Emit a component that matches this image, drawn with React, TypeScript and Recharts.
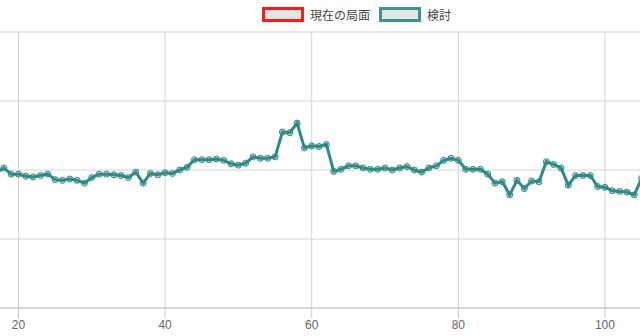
import React from 'react';
import { LineChart, Line, XAxis, YAxis, CartesianGrid } from 'recharts';

// x positions (move numbers) and evaluation values
const moves = [
  17, 18, 19, 20, 21, 22, 23, 24, 25, 26, 27, 28, 29, 30, 31, 32, 33, 34, 35, 36,
  37, 38, 39, 40, 41, 42, 43, 44, 45, 46, 47, 48, 49, 50, 51, 52, 53, 54, 55, 56,
  57, 58, 59, 60, 61, 62, 63, 64, 65, 66, 67, 68, 69, 70, 71, 72, 73, 74, 75, 76,
  77, 78, 79, 80, 81, 82, 83, 84, 85, 86, 87, 88, 89, 90, 91, 92, 93, 94, 95, 96,
  97, 98, 99, 100, 101, 102, 103, 104, 105,
];
const reviewValues = [
  1.96, 2.03, 1.94, 1.94, 1.91, 1.9, 1.92, 1.94, 1.86, 1.85, 1.87, 1.85, 1.81, 1.89, 1.94, 1.94, 1.93, 1.92, 1.89, 1.97,
  1.81, 1.95, 1.93, 1.96, 1.95, 2.0, 2.04, 2.15, 2.15, 2.15, 2.16, 2.14, 2.09, 2.07, 2.1, 2.19, 2.17, 2.17, 2.19, 2.55,
  2.54, 2.68, 2.32, 2.35, 2.34, 2.37, 1.98, 2.01, 2.06, 2.06, 2.03, 2.01, 2.01, 2.03, 2.0, 2.03, 2.05, 2.0, 1.97, 2.03,
  2.06, 2.14, 2.17, 2.14, 2.01, 2.01, 2.01, 1.94, 1.81, 1.83, 1.64, 1.85, 1.73, 1.84, 1.83, 2.12, 2.08, 2.03, 1.78, 1.92,
  1.92, 1.92, 1.76, 1.75, 1.7, 1.69, 1.68, 1.64, 1.88,
];
const xTicks = [20, 40, 60, 80, 100];
const yTicks = [0, 1, 2, 3, 4];
const legendItems = [
  { name: '現在の局面', color: '#ff1a1a' },
  { name: '検討', color: '#3a9690' },
];

const data = moves.map((x, i) => ({ x, review: reviewValues[i] }));

const TEAL = '#2e8a85';

// legend drawn outside the svg so it doesn't push the plot area down
const LegendBoxes = () => (
  <div
    style={{
      position: 'absolute',
      top: 7,
      left: 262,
      display: 'flex',
      alignItems: 'center',
      fontFamily: '"Noto Sans CJK JP", sans-serif',
      fontSize: 12,
      lineHeight: '15px',
      color: '#444',
    }}
  >
    {legendItems.map((it) => (
      <div key={it.name} style={{ display: 'flex', alignItems: 'center', marginRight: 9 }}>
        <span
          style={{
            display: 'inline-block',
            width: 36,
            height: 9,
            border: `3px solid ${it.color}`,
            background: '#e6e6e6',
            marginRight: 6,
          }}
        />
        <span>{it.name}</span>
      </div>
    ))}
  </div>
);

export default function App() {
  return (
    <div style={{ position: 'fixed', left: 0, top: 0, width: 640, height: 336, background: '#fff', overflow: 'hidden' }}>
      <LegendBoxes />
      <LineChart width={640} height={336} data={data} margin={{ top: 32, right: 0, bottom: 0, left: 0 }}>
        <CartesianGrid stroke="#d4d4d4" strokeWidth={1} verticalValues={xTicks} horizontalValues={yTicks} />
        <XAxis
          type="number"
          dataKey="x"
          domain={[17.476, 104.78]}
          allowDataOverflow
          ticks={xTicks}
          height={28}
          tickSize={10}
          tick={{ fill: '#666', fontSize: 12, fontFamily: '"Liberation Sans", Arial, sans-serif' }}
          stroke="#c8c8c8"
        />
        <YAxis hide width={0} domain={[0, 4]} ticks={yTicks} allowDataOverflow />
        <Line
          type="linear"
          dataKey="review"
          name="検討"
          stroke={TEAL}
          strokeWidth={3}
          dot={{ r: 3, fill: 'rgba(46,138,133,0.3)', stroke: TEAL, strokeWidth: 1 }}
          isAnimationActive={false}
        />
      </LineChart>
    </div>
  );
}
